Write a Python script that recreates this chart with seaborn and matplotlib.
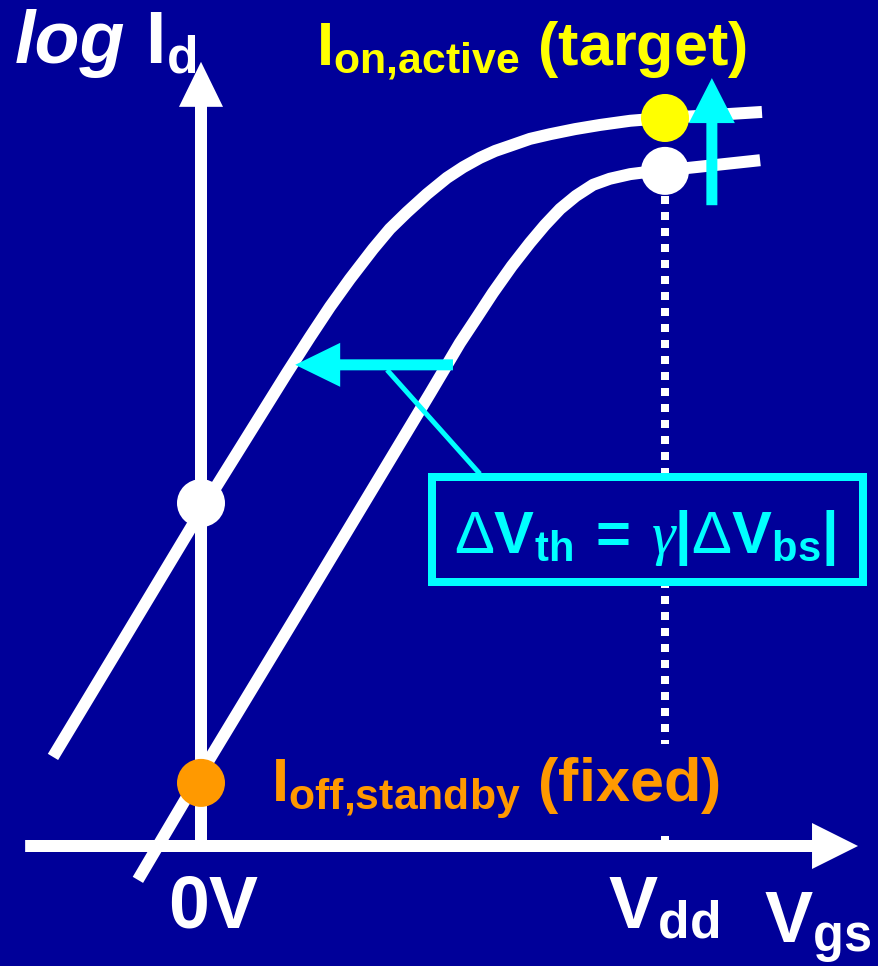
import matplotlib
matplotlib.use("Agg")
import matplotlib.pyplot as plt
from matplotlib.patches import Rectangle
import seaborn as sns
import pandas as pd

# ---- data (Vgs normalised to Vdd = 1, log Id in the same arbitrary units) ----
# nominal transfer curve (no body bias)
vgs_nominal = [-0.136, 0.000, 0.213, 0.494, 0.526, 0.558, 0.595, 0.629, 0.670, 0.709,
               0.741, 0.774, 0.808, 0.845, 0.881, 0.925, 0.957, 1.000, 1.205]
logid_nominal = [-0.073, 0.157, 0.509, 0.976, 1.030, 1.084, 1.140, 1.192, 1.250, 1.300,
                 1.338, 1.373, 1.401, 1.425, 1.438, 1.448, 1.452, 1.456, 1.478]
# curve with forward body bias (threshold shifted left)
vgs_biased = [-0.319, -0.175, 0.000, 0.185, 0.235, 0.278, 0.321, 0.371, 0.407, 0.444, 0.487,
              0.530, 0.565, 0.601, 0.634, 0.666, 0.709, 0.752, 0.806, 0.860, 0.925, 1.000, 1.209]
logid_biased = [0.192, 0.431, 0.722, 1.019, 1.097, 1.162, 1.222, 1.287, 1.330, 1.366, 1.405,
                1.440, 1.463, 1.483, 1.498, 1.509, 1.524, 1.534, 1.545, 1.554, 1.563, 1.569, 1.582]

# operating points
point_names = ["Ion,active", "Ion,nominal", "Ioff,standby", "Ioff,biased"]
point_vgs = [1.0, 1.0, 0.0, 0.0]
point_logid = [1.569, 1.455, 0.136, 0.739]
point_colors = ["#FFFF00", "#FFFFFF", "#FF9900", "#FFFFFF"]

# threshold shift arrow and Ion gain arrow
shift_from, shift_to, shift_level = 0.543, 0.203, 1.037
gain_vgs, gain_from, gain_to = 1.101, 1.381, 1.655

NAVY = "#000099"
CYAN = "#00FFFF"
W, H = 879, 966
S = 464.0  # pixels per unit

sns.set_theme(style="white")
plt.rcParams["font.family"] = ["Liberation Sans", "DejaVu Sans"]
plt.rcParams["mathtext.fontset"] = "custom"
plt.rcParams["mathtext.rm"] = "Liberation Sans"
plt.rcParams["mathtext.bf"] = "Liberation Sans:bold"
plt.rcParams["mathtext.it"] = "Liberation Serif:italic"
plt.rcParams["mathtext.sf"] = "Liberation Sans"

fig = plt.figure(figsize=(W / 100, H / 100), dpi=100, facecolor=NAVY)
ax = fig.add_axes([0, 0, 1, 1])
ax.set_facecolor(NAVY)
ax.set_xlim(-201 / S, (W - 201) / S)
ax.set_ylim((846 - H) / S, 846 / S)
ax.set_axis_off()

px = lambda v: v * 72 / 100  # pixels -> points

# axes with arrow heads
ax.arrow(0, 0, 0, 1.690, width=12 / S, head_width=44 / S, head_length=45 / S,
         length_includes_head=True, fc="white", ec="none", zorder=2)
ax.arrow(-0.379, 0, 1.416 + 0.379, 0, width=12 / S, head_width=46 / S, head_length=46 / S,
         length_includes_head=True, fc="white", ec="none", zorder=2)

# dotted Vdd marker
ax.plot([1.0, 1.0], [1.40, 0.0], color="white", lw=px(8), linestyle=(0, (1, 1)),
        dash_capstyle="butt", zorder=1)

# transfer curves
curves = pd.DataFrame({
    "vgs": vgs_nominal + vgs_biased,
    "logid": logid_nominal + logid_biased,
    "curve": ["nominal"] * len(vgs_nominal) + ["biased"] * len(vgs_biased),
})
sns.lineplot(data=curves, x="vgs", y="logid", units="curve", estimator=None, sort=False,
             color="white", lw=px(12), ax=ax, legend=False, zorder=3,
             solid_capstyle="butt", solid_joinstyle="round")

# operating points
pts = pd.DataFrame({"vgs": point_vgs, "logid": point_logid, "name": point_names})
sns.scatterplot(data=pts, x="vgs", y="logid", hue="name", palette=dict(zip(point_names, point_colors)),
                s=px(48) ** 2, edgecolor="none", legend=False, ax=ax, zorder=4)

# threshold shift arrow with leader to the equation box
ax.plot([0.401, 0.601], [1.026, 0.802], color=CYAN, lw=px(5), zorder=5, solid_capstyle="butt")
ax.arrow(shift_from, shift_level, shift_to - shift_from, 0, width=11 / S, head_width=44 / S,
         head_length=45 / S, length_includes_head=True, fc=CYAN, ec="none", zorder=6)
ax.arrow(gain_vgs, gain_from, 0, gain_to - gain_from, width=11 / S, head_width=46 / S,
         head_length=45 / S, length_includes_head=True, fc=CYAN, ec="none", zorder=6)

# equation box
ax.add_patch(Rectangle((0.498, 0.569), 1.427 - 0.498, 0.795 - 0.569, fc=NAVY, ec=CYAN,
                       lw=px(8), zorder=7))


def ftxt(x, y, s, ha="left", **kw):
    return fig.text(x / W, 1 - y / H, s, va="baseline", ha=ha, **kw)


ftxt(645, 553,
     r"$\Delta\mathbf{V}_{\mathbf{th}}\;\mathbf{=}\;\gamma\mathbf{|}\Delta\mathbf{V}_{\mathbf{bs}}\mathbf{|}$",
     ha="center", color=CYAN, fontsize=43, fontweight="bold", zorder=8)

# labels
ftxt(15, 63, "log", color="white", fontsize=53, fontweight="bold", fontstyle="italic")
ftxt(145, 63, r"$\mathbf{I}_{\mathbf{d}}$", color="white", fontsize=53)
ftxt(316, 65, r"$\mathbf{I}_{\mathbf{on{,}active}}$ (target)", color="#FFFF00", fontsize=44,
     fontweight="bold")
ftxt(271, 802, r"$\mathbf{I}_{\mathbf{off{,}standby}}$ (fixed)", color="#FF9900", fontsize=44,
     fontweight="bold", zorder=8,
     bbox=dict(boxstyle="square,pad=0.2", fc=NAVY, ec="none"))
ftxt(168, 928, "0V", color="white", fontsize=53, fontweight="bold")
ftxt(608, 928, r"$\mathbf{V}_{\mathbf{dd}}$", color="white", fontsize=53)
ftxt(764, 943, r"$\mathbf{V}_{\mathbf{gs}}$", color="white", fontsize=52)

fig.savefig("out.png", dpi=100, facecolor=NAVY)
